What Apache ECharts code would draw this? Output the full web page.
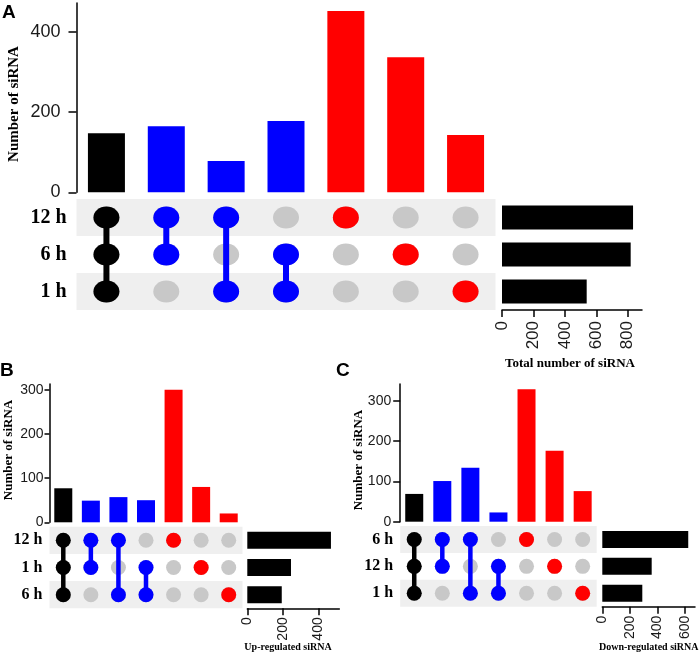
<!DOCTYPE html>
<html>
<head>
<meta charset="utf-8">
<script src="https://cdn.jsdelivr.net/npm/echarts@6/dist/echarts.min.js"></script>
<style>
html, body { margin: 0; padding: 0; background: #fff; }
#chart { width: 699px; height: 655px; }
</style>
</head>
<body>
<div id="chart"></div>
<script>
// which matrix rows (index from top) each intersection column uses
var combos = [[0, 1, 2], [0, 1], [0, 2], [1, 2], [0], [1], [2]];

// A: all siRNA
var rowsA = ['12 h', '6 h', '1 h'];
var countsA = [147, 165, 78, 178, 452, 337, 143];
var totalsA = [834, 819, 539];
var ticksA = [0, 200, 400];
var totalTicksA = [0, 200, 400, 600, 800];

// B: up-regulated
var rowsB = ['12 h', '1 h', '6 h'];
var countsB = [77, 49, 57, 50, 300, 80, 20];
var totalsB = [471, 246, 194];
var ticksB = [0, 100, 200, 300];
var totalTicksB = [0, 200, 400];

// C: down-regulated
var rowsC = ['6 h', '12 h', '1 h'];
var countsC = [69, 101, 134, 23, 329, 176, 76];
var totalsC = [623, 358, 290];
var ticksC = [0, 100, 200, 300];
var totalTicksC = [0, 200, 400, 600];

var SERIF = '"Liberation Serif", "DejaVu Serif", serif';
var SANS = '"Liberation Sans", Arial, sans-serif';
var GREY = '#c8c8c8';
var STRIPE = '#efefef';

function comboColor(n) {
  if (n === 3) return '#000000';
  if (n === 2) return '#0000ff';
  return '#ff0000';
}

var grids = [], xAxes = [], yAxes = [], series = [], graphics = [];

function addPanel(p, rows, counts, totals, ticks, totalTicks) {
  var gi = grids.length;
  var cols = combos.map(function (c, i) { return i; });

  // intersection size bars
  grids.push({ left: p.left, top: p.barTop, width: p.width, height: p.barH });
  xAxes.push({ gridIndex: gi, type: 'category', data: cols, show: false });
  yAxes.push({
    gridIndex: gi, type: 'value', min: 0, max: p.yMax,
    axisLine: { show: true, lineStyle: { color: '#000', width: 1.5 } },
    axisTick: { show: true, length: p.tickLen, customValues: ticks, lineStyle: { color: '#000', width: 1.5 } },
    axisLabel: { customValues: ticks, fontFamily: SANS, fontSize: p.tickFs, color: '#1a1a1a', margin: p.labMargin },
    splitLine: { show: false }
  });
  series.push({
    type: 'bar', xAxisIndex: gi, yAxisIndex: gi, barWidth: p.barW, silent: true,
    data: counts.map(function (v, i) {
      return { value: v, itemStyle: { color: comboColor(combos[i].length) } };
    })
  });

  // membership matrix
  var mi = gi + 1;
  grids.push({ left: p.left, top: p.matTop, width: p.width, height: p.matH });
  xAxes.push({ gridIndex: mi, type: 'category', data: cols, show: false });
  yAxes.push({
    gridIndex: mi, type: 'category', data: rows, inverse: true,
    axisLine: { show: false }, axisTick: { show: false },
    axisLabel: { fontFamily: SERIF, fontWeight: 'bold', fontSize: p.rowFs, color: '#000', margin: p.rowMargin },
    splitArea: { show: true, areaStyle: { color: [STRIPE, '#ffffff'] } }
  });
  var greyDots = [];
  cols.forEach(function (c) {
    rows.forEach(function (r, ri) { greyDots.push([c, ri]); });
  });
  series.push({
    type: 'scatter', xAxisIndex: mi, yAxisIndex: mi, symbolSize: p.dot, silent: true, z: 2,
    itemStyle: { color: GREY, opacity: 1 }, data: greyDots
  });
  combos.forEach(function (c, i) {
    if (c.length < 2) return;
    series.push({
      type: 'line', xAxisIndex: mi, yAxisIndex: mi, symbol: 'none', silent: true, z: 3,
      lineStyle: { color: comboColor(c.length), width: p.link, opacity: 1 },
      data: [[i, Math.min.apply(null, c)], [i, Math.max.apply(null, c)]]
    });
  });
  var onDots = [];
  combos.forEach(function (c, i) {
    c.forEach(function (r) {
      onDots.push({ value: [i, r], itemStyle: { color: comboColor(c.length), opacity: 1 } });
    });
  });
  series.push({
    type: 'scatter', xAxisIndex: mi, yAxisIndex: mi, symbolSize: p.dot, silent: true, z: 4,
    itemStyle: { opacity: 1 }, data: onDots
  });

  // set size bars
  var ti = gi + 2;
  grids.push({ left: p.totLeft, top: p.matTop, width: p.totW, height: p.matH });
  xAxes.push({
    gridIndex: ti, type: 'value', min: 0, max: p.totMax, position: 'bottom',
    axisLine: { show: true, lineStyle: { color: '#000', width: 1.5 } },
    axisTick: { show: true, length: 7, customValues: totalTicks, lineStyle: { color: '#000', width: 1.5 } },
    axisLabel: { customValues: totalTicks, rotate: 90, fontFamily: SANS, fontSize: p.totFs, color: '#1a1a1a', margin: p.totMargin },
    splitLine: { show: false }
  });
  yAxes.push({ gridIndex: ti, type: 'category', data: rows, inverse: true, show: false });
  series.push({
    type: 'bar', xAxisIndex: ti, yAxisIndex: ti, barWidth: p.totBarW, silent: true,
    itemStyle: { color: '#000' }, data: totals
  });

  graphics.push({
    type: 'text', x: p.yNameX, y: p.yNameY, rotation: Math.PI / 2,
    style: { text: 'Number of siRNA', fontFamily: SERIF, fontWeight: 'bold', fontSize: p.yNameFs,
      fill: '#000', textAlign: 'center', textVerticalAlign: 'middle' }
  });
  graphics.push({
    type: 'text', x: p.totNameX, y: p.totNameY,
    style: { text: p.totName, fontFamily: SERIF, fontWeight: 'bold', fontSize: p.totNameFs,
      fill: '#000', textAlign: 'center', textVerticalAlign: 'middle' }
  });
  graphics.push({
    type: 'text', x: p.letterX, y: p.letterY,
    style: { text: p.letter, fontFamily: SANS, fontWeight: 'bold', fontSize: 19, fill: '#000',
      textAlign: 'left', textVerticalAlign: 'top' }
  });
}

addPanel({
  letter: 'A', letterX: 2, letterY: 3,
  left: 76.5, width: 419, barTop: 3, barH: 189.3, yMax: 472, barW: 37,
  tickLen: 8, tickFs: 18, labMargin: 16,
  matTop: 199, matH: 111, rowFs: 20, rowMargin: 10, dot: [26, 22], link: 6,
  totLeft: 502, totW: 140, totMax: 891, totBarW: 24, totFs: 17, totMargin: 11,
  yNameX: 14, yNameY: 104, yNameFs: 15,
  totName: 'Total number of siRNA', totNameX: 570, totNameY: 364, totNameFs: 13
}, rowsA, countsA, totalsA, ticksA, totalTicksA);

addPanel({
  letter: 'B', letterX: 0, letterY: 361,
  left: 49.5, width: 193, barTop: 384, barH: 138.3, yMax: 313, barW: 18,
  tickLen: 5, tickFs: 14, labMargin: 6,
  matTop: 526.7, matH: 81.6, rowFs: 16, rowMargin: 7, dot: 15, link: 4.5,
  totLeft: 247.3, totW: 92, totMax: 518, totBarW: 17, totFs: 14, totMargin: 9,
  yNameX: 8.5, yNameY: 450, yNameFs: 13,
  totName: 'Up-regulated siRNA', totNameX: 288, totNameY: 647, totNameFs: 10
}, rowsB, countsB, totalsB, ticksB, totalTicksB);

addPanel({
  letter: 'C', letterX: 336, letterY: 361,
  left: 400.2, width: 196.5, barTop: 384, barH: 137.7, yMax: 342, barW: 18,
  tickLen: 7, tickFs: 14, labMargin: 9,
  matTop: 526, matH: 80.7, rowFs: 16, rowMargin: 7, dot: 15, link: 4.5,
  totLeft: 602.3, totW: 92.7, totMax: 672, totBarW: 17, totFs: 14, totMargin: 9,
  yNameX: 359, yNameY: 460, yNameFs: 13,
  totName: 'Down-regulated siRNA', totNameX: 648.7, totNameY: 647, totNameFs: 10
}, rowsC, countsC, totalsC, ticksC, totalTicksC);

var chart = echarts.init(document.getElementById('chart'), null, { renderer: 'canvas' });
chart.setOption({
  animation: false,
  backgroundColor: '#ffffff',
  grid: grids,
  xAxis: xAxes,
  yAxis: yAxes,
  series: series,
  graphic: graphics
});
</script>
</body>
</html>
